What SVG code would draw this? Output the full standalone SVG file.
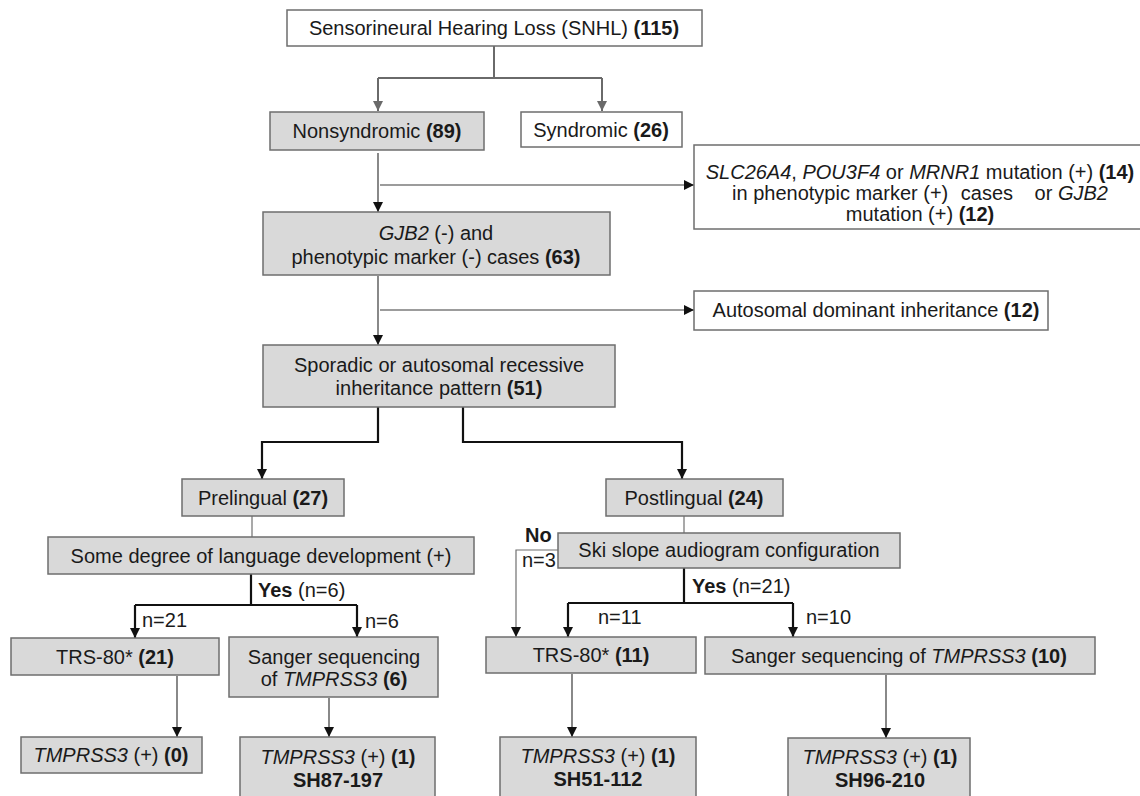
<svg xmlns="http://www.w3.org/2000/svg" width="1140" height="796" viewBox="0 0 1140 796">
<style>
text{font-family:"Liberation Sans",Arial,sans-serif;font-size:20px;fill:#1a1a1a}
.c{text-anchor:middle}
.b{font-weight:bold}
.i{font-style:italic}
.w{fill:#ffffff;stroke:#6e6e6e;stroke-width:1.5}
.g{fill:#d9d9d9;stroke:#6e6e6e;stroke-width:1.5}
.ln{fill:none;stroke:#3a3a3a;stroke-width:1.2}
.gl{fill:none;stroke:#707070;stroke-width:1.2}
.tk{fill:none;stroke:#111111;stroke-width:2.2}
.tg{fill:none;stroke:#6a6a6a;stroke-width:2}
</style>
<defs>
<marker id="a" markerUnits="userSpaceOnUse" markerWidth="10" markerHeight="10" refX="10" refY="5" orient="auto"><path d="M0,0 L10,5 L0,10 z" fill="#111"/></marker>
<marker id="ag" markerUnits="userSpaceOnUse" markerWidth="10" markerHeight="10" refX="10" refY="5" orient="auto"><path d="M0,0 L10,5 L0,10 z" fill="#6a6a6a"/></marker>
</defs>
<rect width="1140" height="796" fill="#ffffff"/>
<g id="connectors">
<path class="tg" d="M494,46 V78 M378,78 H602"/>
<path class="tg" d="M378,78 V111" marker-end="url(#ag)"/>
<path class="tg" d="M602,78 V111" marker-end="url(#ag)"/>
<path class="ln" d="M378,153 V212" marker-end="url(#a)"/>
<path class="ln" d="M380,185 H694" marker-end="url(#a)"/>
<path class="ln" d="M378,276 V345" marker-end="url(#a)"/>
<path class="ln" d="M380,310 H694" marker-end="url(#a)"/>
<path class="tk" d="M378,407 V442 H262 V479" marker-end="url(#a)"/>
<path class="tk" d="M463,407 V442 H682 V479" marker-end="url(#a)"/>
<path class="gl" d="M252,516 V537"/>
<path class="gl" d="M684,516 V533"/>
<path class="tk" d="M251,574 V605 M135,605 H357"/>
<path class="tk" d="M135,605 V638" marker-end="url(#a)"/>
<path class="tk" d="M357,605 V637" marker-end="url(#a)"/>
<path class="gl" d="M558,550 H516 V637" marker-end="url(#a)"/>
<path class="tk" d="M684,568 V603 M568,603 H793"/>
<path class="tk" d="M568,603 V637" marker-end="url(#a)"/>
<path class="tk" d="M793,603 V637" marker-end="url(#a)"/>
<path class="ln" d="M177,676 V737" marker-end="url(#a)"/>
<path class="ln" d="M329,698 V737" marker-end="url(#a)"/>
<path class="ln" d="M572,674 V737" marker-end="url(#a)"/>
<path class="ln" d="M886,675 V738" marker-end="url(#a)"/>
</g>
<g id="labels">
<text x="258" y="597"><tspan class="b">Yes</tspan> (n=6)</text>
<text x="142" y="627">n=21</text>
<text x="365" y="628">n=6</text>
<text x="525" y="542" class="b">No</text>
<text x="522" y="567">n=3</text>
<text x="692" y="593"><tspan class="b">Yes</tspan> (n=21)</text>
<text x="598" y="624">n=11</text>
<text x="806" y="624">n=10</text>
</g>
<g id="n_snhl"><rect class="w" x="287" y="10" width="415" height="36"/><text class="c" x="494" y="35">Sensorineural Hearing Loss (SNHL) <tspan class="b">(115)</tspan></text></g>
<g id="n_nonsyn"><rect class="g" x="270" y="112" width="214" height="38"/><text class="c" x="377" y="138">Nonsyndromic <tspan class="b">(89)</tspan></text></g>
<g id="n_syn"><rect class="w" x="521" y="112" width="161" height="35"/><text class="c" x="601" y="137">Syndromic <tspan class="b">(26)</tspan></text></g>
<g id="n_slc"><rect class="w" x="694" y="145" width="452" height="84"/>
<text class="c" x="920" y="179"><tspan class="i">SLC26A4</tspan>, <tspan class="i">POU3F4</tspan> or <tspan class="i">MRNR1</tspan> mutation (+) <tspan class="b">(14)</tspan></text>
<text class="c" x="920" y="200">in phenotypic marker (+)<tspan dx="7"> cases</tspan><tspan dx="16"> or </tspan><tspan class="i">GJB2</tspan></text>
<text class="c" x="920" y="221">mutation (+) <tspan class="b">(12)</tspan></text></g>
<g id="n_gjb2"><rect class="g" x="263" y="212" width="347" height="63"/>
<text class="c" x="436" y="240"><tspan class="i">GJB2</tspan> (-) and</text>
<text class="c" x="436" y="264">phenotypic marker (-) cases <tspan class="b">(63)</tspan></text></g>
<g id="n_ad"><rect class="w" x="694" y="291" width="354" height="39"/><text class="c" x="876" y="317">Autosomal dominant inheritance <tspan class="b">(12)</tspan></text></g>
<g id="n_sporadic"><rect class="g" x="263" y="345" width="352" height="62"/>
<text class="c" x="439" y="372">Sporadic or autosomal recessive</text>
<text class="c" x="439" y="395">inheritance pattern <tspan class="b">(51)</tspan></text></g>
<g id="n_prel"><rect class="g" x="182" y="479" width="162" height="37"/><text class="c" x="263" y="505">Prelingual <tspan class="b">(27)</tspan></text></g>
<g id="n_postl"><rect class="g" x="606" y="479" width="177" height="37"/><text class="c" x="694" y="505">Postlingual <tspan class="b">(24)</tspan></text></g>
<g id="n_lang"><rect class="g" x="48" y="537" width="426" height="37"/><text class="c" x="261" y="563">Some degree of language development (+)</text></g>
<g id="n_ski"><rect class="g" x="558" y="533" width="342" height="35"/><text class="c" x="729" y="557">Ski slope audiogram configuration</text></g>
<g id="n_trs21"><rect class="g" x="11" y="638" width="208" height="37"/><text class="c" x="115" y="664">TRS-80* <tspan class="b">(21)</tspan></text></g>
<g id="n_sang6"><rect class="g" x="229" y="637" width="209" height="60"/>
<text class="c" x="334" y="664">Sanger sequencing</text>
<text class="c" x="334" y="686">of <tspan class="i">TMPRSS3</tspan> <tspan class="b">(6)</tspan></text></g>
<g id="n_trs11"><rect class="g" x="486" y="637" width="210" height="36"/><text class="c" x="591" y="662">TRS-80* <tspan class="b">(11)</tspan></text></g>
<g id="n_sang10"><rect class="g" x="705" y="637" width="390" height="37"/><text class="c" x="899" y="663">Sanger sequencing of <tspan class="i">TMPRSS3</tspan> <tspan class="b">(10)</tspan></text></g>
<g id="n_res0"><rect class="g" x="21" y="737" width="181" height="36"/><text class="c" x="111" y="762"><tspan class="i">TMPRSS3</tspan> (+) <tspan class="b">(0)</tspan></text></g>
<g id="n_res1a"><rect class="g" x="240" y="737" width="195" height="70"/>
<text class="c" x="338" y="764"><tspan class="i">TMPRSS3</tspan> (+) <tspan class="b">(1)</tspan></text>
<text class="c b" x="338" y="787">SH87-197</text></g>
<g id="n_res1b"><rect class="g" x="500" y="737" width="196" height="70"/>
<text class="c" x="598" y="763"><tspan class="i">TMPRSS3</tspan> (+) <tspan class="b">(1)</tspan></text>
<text class="c b" x="598" y="786">SH51-112</text></g>
<g id="n_res1c"><rect class="g" x="788" y="738" width="182" height="70"/>
<text class="c" x="880" y="764"><tspan class="i">TMPRSS3</tspan> (+) <tspan class="b">(1)</tspan></text>
<text class="c b" x="880" y="787">SH96-210</text></g>
</svg>
